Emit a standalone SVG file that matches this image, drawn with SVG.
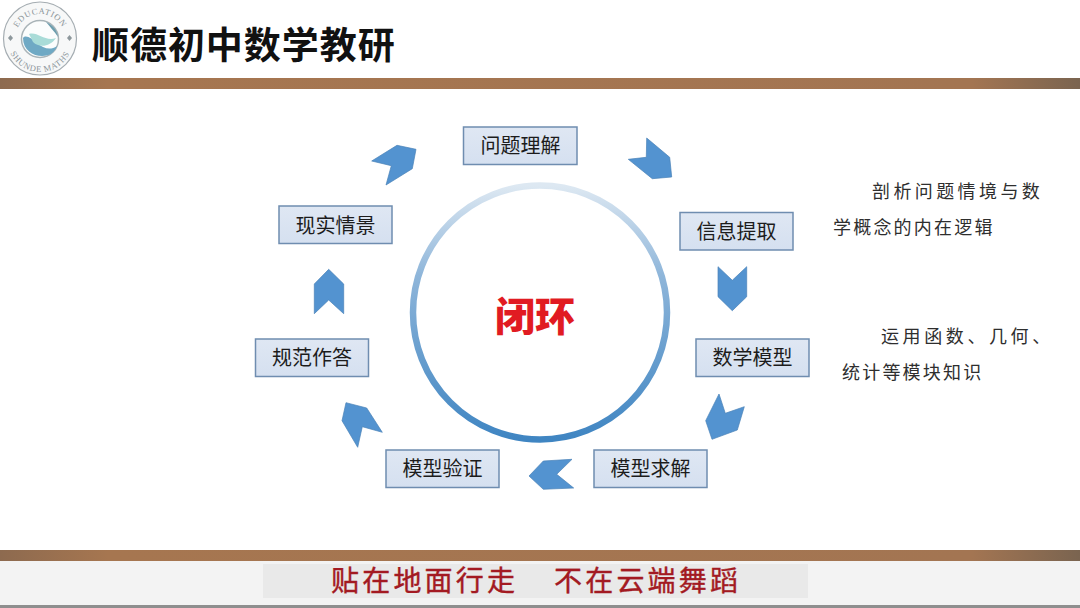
<svg xmlns="http://www.w3.org/2000/svg" width="1080" height="608" viewBox="0 0 1080 608">
<style>
.box{fill:url(#boxFill);stroke:#6f8db0;stroke-width:1.5}
.lbl{font-family:"Noto Sans CJK SC","Liberation Sans",sans-serif;font-size:20px;fill:#1c1c1c;text-anchor:middle;dominant-baseline:central}
.arr{fill:#5393d0;stroke:#4a82b8;stroke-width:.7}
.note{font-family:"Noto Sans CJK SC","Liberation Serif",serif;font-size:18px;fill:#2e2e2e}
.logo{font-family:"Liberation Serif",serif;font-size:8.500px;fill:#8a9499;letter-spacing:.7px}
.foot{font-family:"Noto Sans CJK SC",sans-serif;font-size:28px;fill:#a31a22;stroke:#a31a22;stroke-width:.4;letter-spacing:3.200px}
</style>
<defs>
<linearGradient id="boxFill" x1="0" y1="0" x2="0" y2="1"><stop offset="0" stop-color="#dfe7f3"/><stop offset="1" stop-color="#d5e0f0"/></linearGradient>
<linearGradient id="ringGrad" x1="0" y1="0" x2="0" y2="1"><stop offset="0" stop-color="#dde8f2"/><stop offset=".35" stop-color="#8fb6da"/><stop offset="1" stop-color="#3f85c2"/></linearGradient>
<linearGradient id="band" x1="0" y1="0" x2="1" y2="0"><stop offset="0" stop-color="#8d6a4f"/><stop offset=".1" stop-color="#a67650"/><stop offset=".9" stop-color="#a37552"/><stop offset="1" stop-color="#7a6450"/></linearGradient>
<path id="logoTop" d="M15 39A25 25 0 0 1 65 39"/>
<path id="logoBot" d="M7 39A33 33 0 0 0 73 39"/>
</defs>
<rect width="1080" height="608" fill="#ffffff"/>
<g id="header">
<g id="logo">
<circle cx="40" cy="38.500" r="36.500" fill="#f7f8f8" stroke="#a5adb2" stroke-width="1.200"/>
<circle cx="40" cy="39" r="18.500" fill="#fbfdfd" stroke="#a9b4b8" stroke-width="1.500"/>
<path d="M23 38C23 50 33 56 42 56C50 56 55 52 57 46C50 51 43 48 37 43C32 39 26 34 23 38Z" fill="#6fa9c4"/>
<path d="M29 34C37 31 45 42 56 38C50 47 39 48 33 42Z" fill="#a9dcd8"/>
<path d="M46 22C53 25 57 30 58 37C54 31 50 27 46 22Z" fill="#6d9eae"/>
<path d="M8 38l2.500-3 2.500 3-2.500 3Z" fill="#8d989c"/><path d="M67 38l2.500-3 2.500 3-2.500 3Z" fill="#8d989c"/>
<text class="logo"><textPath href="#logoTop" startOffset="50%" text-anchor="middle">EDUCATION</textPath></text>
<text class="logo"><textPath href="#logoBot" startOffset="50%" text-anchor="middle">SHUNDE MATHS</textPath></text>
</g>
<text x="92" y="59" font-family="'Noto Sans CJK SC','Noto Sans CJK JP',sans-serif" font-size="37px" font-weight="700" fill="#111111" letter-spacing="1.300px" textLength="304">顺德初中数学教研</text>
<rect x="0" y="78" width="1080" height="11" fill="url(#band)"/>
</g>
<g id="connectors">
<polygon class="arr" points="371.700,161 397,145.300 416,149.300 412.300,168.700 386,185 391.300,165.700"/>
<polygon class="arr" points="628.300,159.300 646.300,157.300 646.700,138 669.700,157.300 671.700,177 652.300,178.700"/>
<polygon class="arr" points="718,266.700 732.300,280.300 746.700,266.700 746.700,296.700 732.300,310.700 718,296.700"/>
<polygon class="arr" points="744.300,406.700 725.300,413.300 719,394 705.700,420.700 712,439.300 737.300,430"/>
<polygon class="arr" points="572,459.300 543.300,461 529,476 543.300,489.300 573.700,488 556.700,474.300"/>
<polygon class="arr" points="382.300,432.300 366.700,408 346,402.700 342,420.700 357.700,447.300 362.300,426.700"/>
<polygon class="arr" points="328.700,269.300 343.700,284 343.700,313.700 328.700,300 314.300,313.700 314.300,284"/>
</g>
<g id="center">
<circle cx="540" cy="312.500" r="127" fill="#ffffff" stroke="url(#ringGrad)" stroke-width="6.500"/>
<text x="535" y="314" font-family="'Noto Sans CJK SC',sans-serif" font-size="40px" font-weight="900" fill="#e11b22" text-anchor="middle" dominant-baseline="central">闭环</text>
</g>
<g id="node-wtlj"><rect class="box" x="463.500" y="127" width="113.500" height="37.500"/><text class="lbl" x="520.500" y="144.800">问题理解</text></g>
<g id="node-xxtq"><rect class="box" x="680" y="212.500" width="113" height="37.500"/><text class="lbl" x="736.500" y="230.300">信息提取</text></g>
<g id="node-sxmx"><rect class="box" x="696" y="339" width="113" height="37.500"/><text class="lbl" x="752.500" y="356.300">数学模型</text></g>
<g id="node-mxqj"><rect class="box" x="594" y="450" width="113" height="37.500"/><text class="lbl" x="650.500" y="467.300">模型求解</text></g>
<g id="node-mxyz"><rect class="box" x="386" y="450" width="113" height="37.500"/><text class="lbl" x="442.500" y="467.300">模型验证</text></g>
<g id="node-gfzd"><rect class="box" x="255.500" y="339" width="113" height="37.500"/><text class="lbl" x="312" y="356.300">规范作答</text></g>
<g id="node-xsqj"><rect class="box" x="279" y="206" width="113" height="37.500"/><text class="lbl" x="335.500" y="224.300">现实情景</text></g>
<g id="notes">
<text class="note" x="872" y="197.500" letter-spacing="3.400px">剖析问题情境与数</text>
<text class="note" x="833" y="233.500" letter-spacing="2.200px">学概念的内在逻辑</text>
<text class="note" x="881" y="343" letter-spacing="3.600px">运用函数、几何、</text>
<text class="note" x="842" y="379" letter-spacing="2.200px">统计等模块知识</text>
</g>
<g id="footer">
<rect x="0" y="561" width="1080" height="44" fill="#f3f3f3"/>
<rect x="263" y="564" width="545" height="34" fill="#e9e9e9"/>
<rect x="0" y="550" width="1080" height="11" fill="url(#band)"/>
<rect x="0" y="605" width="1080" height="3" fill="#8e8e8e"/>
<text class="foot" x="331" y="591">贴在地面行走</text>
<text class="foot" x="554" y="591">不在云端舞蹈</text>
</g>
</svg>
